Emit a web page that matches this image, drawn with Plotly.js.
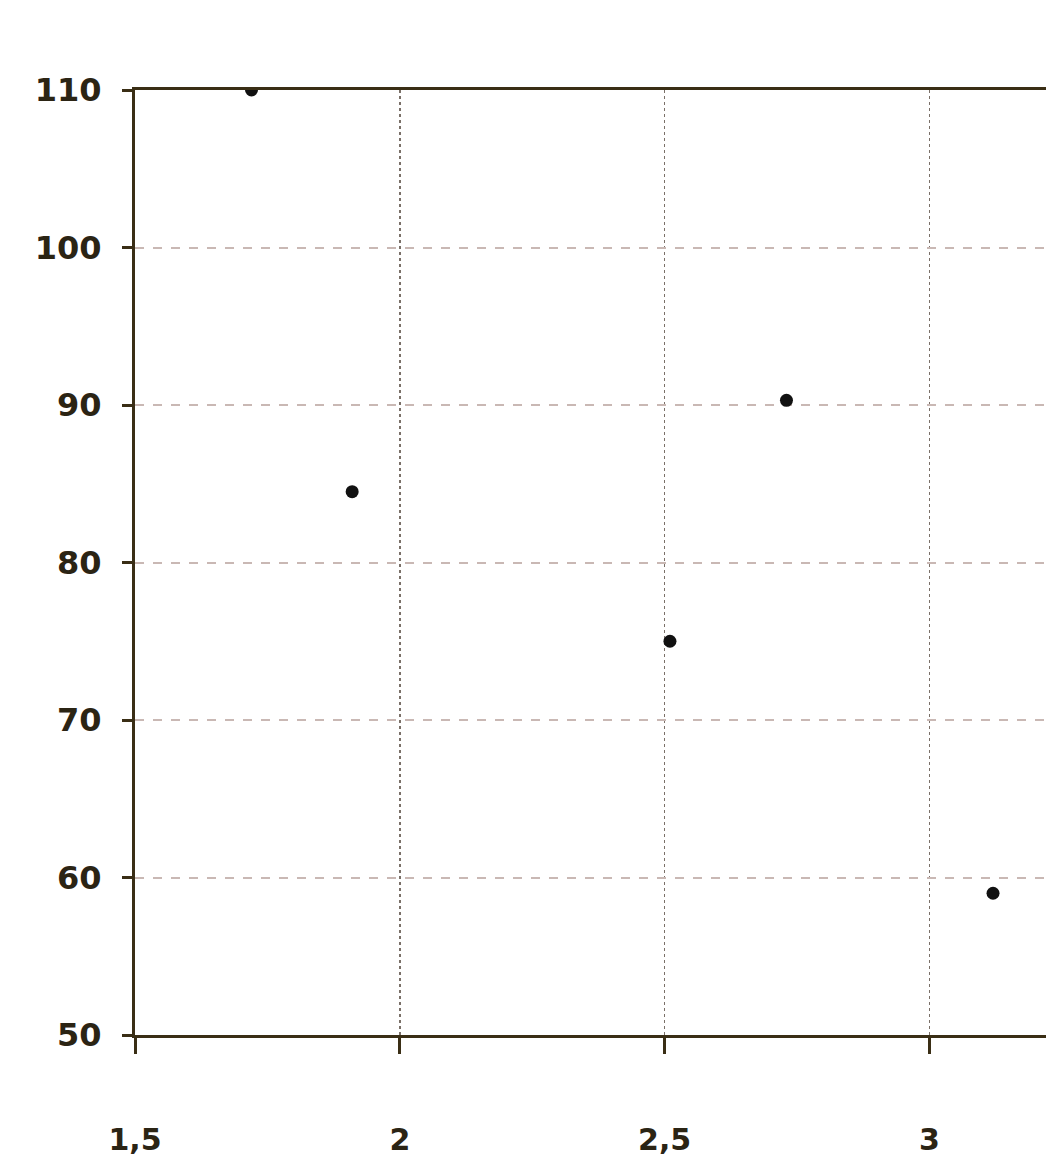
<!DOCTYPE html>
<html>
<head>
<meta charset="utf-8">
<script src="https://cdn.plot.ly/plotly-3.0.1.min.js"></script>
<style>html,body{margin:0;padding:0;background:#fff;}#chart{width:1046px;height:1170px;}</style>
</head>
<body>
<div id="chart"></div>
<script>
const xValues = [1.72, 1.91, 2.51, 2.73, 3.12];
const yValues = [110, 84.5, 75, 90.3, 59];
const xTickVals = [1.5, 2, 2.5, 3];
const xTickText = ["1,5", "2", "2,5", "3"];
const yTickVals = [50, 60, 70, 80, 90, 100, 110];
const yTickText = ["50", "60", "70", "80", "90", "100", "110"];

const trace = {
  x: xValues, y: yValues, type: "scatter", mode: "markers",
  marker: {color: "#111", size: 13},
  showlegend: false, hoverinfo: "x+y"
};

const layout = {
  width: 1046, height: 1170,
  margin: {l: 135, r: 0, t: 90, b: 135},
  paper_bgcolor: "#fff", plot_bgcolor: "#fff",
  font: {family: "DejaVu Sans, sans-serif", color: "#2b2414", size: 30},
  xaxis: {
    range: [1.5, 3.22], tickvals: xTickVals, ticktext: xTickText,
    showgrid: true, gridcolor: "#7a7068", gridwidth: 1.5, griddash: "dot",
    showline: true, linecolor: "#3a2e15", linewidth: 3, mirror: true,
    ticks: "outside", ticklen: 16, tickwidth: 3, tickcolor: "#3a2e15",
    ticklabelstandoff: 60,
    tickfont: {family: "DejaVu Sans, sans-serif", size: 30, color: "#2b2414", weight: "bold"},
    zeroline: false
  },
  yaxis: {
    range: [50, 110], tickvals: yTickVals, ticktext: yTickText,
    showgrid: true, gridcolor: "#c9b8b4", gridwidth: 2, griddash: "dash",
    showline: true, linecolor: "#3a2e15", linewidth: 3,
    ticks: "outside", ticklen: 10, tickwidth: 3, tickcolor: "#3a2e15",
    ticklabelstandoff: 14,
    tickfont: {family: "DejaVu Sans, sans-serif", size: 32, color: "#2b2414", weight: "bold"},
    zeroline: false
  }
};

Plotly.newPlot("chart", [trace], layout, {displayModeBar: false, staticPlot: true});
</script>
</body>
</html>
